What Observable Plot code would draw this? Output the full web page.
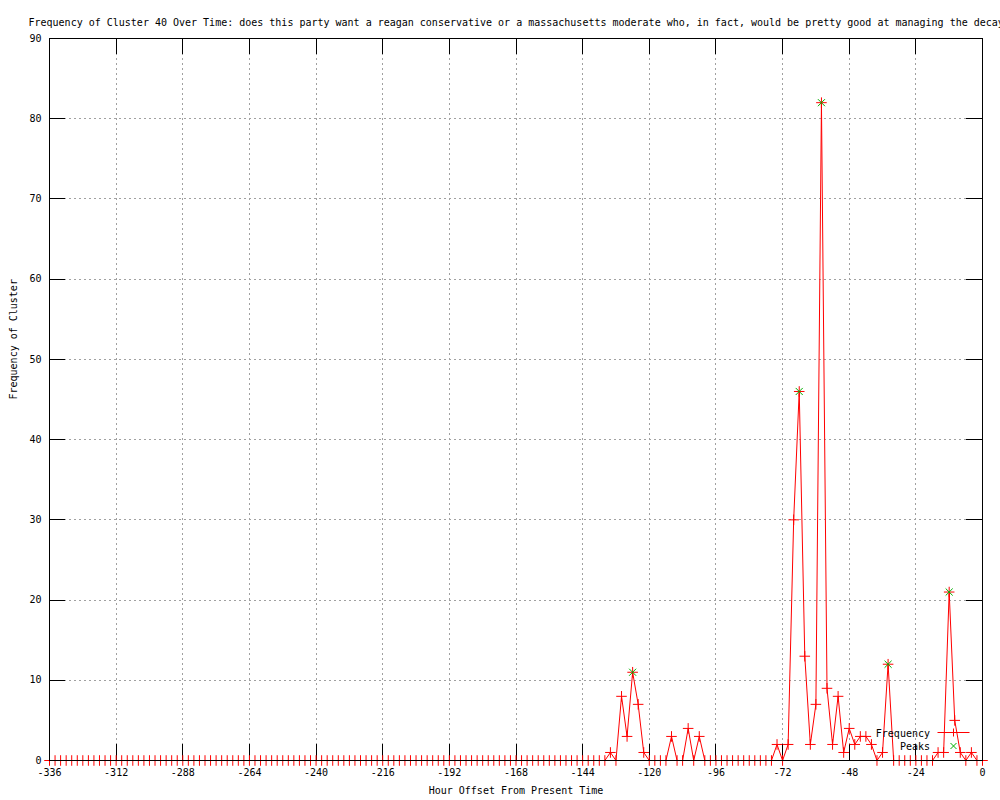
<!DOCTYPE html>
<html><head><meta charset="utf-8">
<script src="https://cdn.jsdelivr.net/npm/d3@7"></script>
<script src="https://cdn.jsdelivr.net/npm/@observablehq/plot@0.6"></script>
<style>
body{margin:0;background:#fff}
#chart{position:relative;width:1000px;height:800px;overflow:hidden}
</style>
</head><body><div id="chart"></div>
<script>
const title = "Frequency of Cluster 40 Over Time: does this party want a reagan conservative or a massachusetts moderate who, in fact, would be pretty good at managing the decay";
const xLabel = "Hour Offset From Present Time";
const yLabel = "Frequency of Cluster";
const xTicks = [-336, -312, -288, -264, -240, -216, -192, -168, -144, -120, -96, -72, -48, -24, 0];
const yTicks = [0, 10, 20, 30, 40, 50, 60, 70, 80, 90];
const legendLabels = ["Frequency", "Peaks"];

// one value every 2 hours, starting at -336; each row covers 24 hours
const frequency = [
  0,0,0,0,0,0,0,0,0,0,0,0,        // -336
  0,0,0,0,0,0,0,0,0,0,0,0,        // -312
  0,0,0,0,0,0,0,0,0,0,0,0,        // -288
  0,0,0,0,0,0,0,0,0,0,0,0,        // -264
  0,0,0,0,0,0,0,0,0,0,0,0,        // -240
  0,0,0,0,0,0,0,0,0,0,0,0,        // -216
  0,0,0,0,0,0,0,0,0,0,0,0,        // -192
  0,0,0,0,0,0,0,0,0,0,0,0,        // -168
  0,0,0,0,0,1,0,8,3,11,7,1,       // -144
  0,0,0,0,3,0,0,4,0,3,0,0,        // -120
  0,0,0,0,0,0,0,0,0,0,0,2,        // -96
  0,2,30,46,13,2,7,82,9,2,8,1,    // -72
  4,2,3,3,2,0,1,12,0,0,0,0,       // -48
  0,0,0,0,1,1,21,5,1,0,1,0,       // -24
  0                               // 0
];
const startHour = -336;
const stepHours = 2;

const peakHours = [-126, -66, -58, -34, -12];
const peakValues = [11, 46, 82, 12, 21];

const series = frequency.map((v, i) => ({hour: startHour + i * stepHours, value: v}));
const peaks = peakHours.map((h, i) => ({hour: h, value: peakValues[i]}));

const W = 1000, H = 800, mL = 49, mR = 18, mT = 38, mB = 40;
const plotW = W - mL - mR, plotH = H - mT - mB;
const tickLen = 16;
const font = "DejaVu Sans Mono, Liberation Mono, monospace";

const chart = Plot.plot({
  width: W, height: H,
  marginLeft: mL, marginRight: mR, marginTop: mT, marginBottom: mB,
  style: {fontFamily: font, fontSize: "10px", color: "black", background: "white", overflow: "visible"},
  x: {domain: [-336, 0], ticks: xTicks, tickSize: 0, tickPadding: 8, tickFormat: d => String(d), label: null},
  y: {domain: [0, 90], ticks: yTicks, tickSize: 0, tickPadding: 8, tickFormat: d => String(d), label: null},
  marks: [
    Plot.ruleX(xTicks, {x: d => d, stroke: "#a0a0a0", strokeOpacity: 1, strokeDasharray: "2,3", shapeRendering: "crispEdges"}),
    Plot.ruleY(yTicks, {y: d => d, stroke: "#a0a0a0", strokeOpacity: 1, strokeDasharray: "2,3", shapeRendering: "crispEdges"}),
    Plot.tickX(xTicks, {x: d => d, insetTop: plotH - tickLen, stroke: "black", shapeRendering: "crispEdges"}),
    Plot.tickX(xTicks, {x: d => d, insetBottom: plotH - tickLen, stroke: "black", shapeRendering: "crispEdges"}),
    Plot.tickY(yTicks, {y: d => d, insetRight: plotW - tickLen, stroke: "black", shapeRendering: "crispEdges"}),
    Plot.tickY(yTicks, {y: d => d, insetLeft: plotW - tickLen, stroke: "black", shapeRendering: "crispEdges"}),
    Plot.line(series, {x: "hour", y: "value", stroke: "#ff0000", strokeWidth: 1}),
    Plot.dot(series, {x: "hour", y: "value", symbol: "plus", r: 3.5, stroke: "#ff0000", strokeWidth: 1}),
    Plot.dot(peaks, {x: "hour", y: "value", symbol: "times", r: 3.3, stroke: "#00b000", strokeWidth: 1}),
    Plot.frame({stroke: "black", shapeRendering: "crispEdges"}),
    Plot.text([title], {text: d => d, frameAnchor: "top-left", textAnchor: "start", dx: -21, dy: -20, fill: "black"}),
    Plot.text([xLabel], {text: d => d, frameAnchor: "bottom", dy: 33, fill: "black"}),
    Plot.text([yLabel], {text: d => d, frameAnchor: "left", rotate: -90, dx: -36, fill: "black"})
  ]
});
document.getElementById("chart").appendChild(chart);

// legend (inside plot, bottom right)
const svg = d3.select(chart);
const lg = svg.append("g").attr("font-family", font).attr("font-size", 10);
lg.append("text").attr("x", 930).attr("y", 733).attr("dy", "0.35em").attr("text-anchor", "end").text(legendLabels[0]);
lg.append("text").attr("x", 930).attr("y", 746).attr("dy", "0.35em").attr("text-anchor", "end").text(legendLabels[1]);
lg.append("line").attr("x1", 937.5).attr("x2", 969.5).attr("y1", 732.5).attr("y2", 732.5).attr("stroke", "#ff0000");
lg.append("path").attr("d", "M949.5,732.5H957.5M953.5,728.5V736.5").attr("stroke", "#ff0000").attr("fill", "none");
lg.append("path").attr("d", "M950.5,743L956.5,749M956.5,743L950.5,749").attr("stroke", "#00b000").attr("fill", "none");
</script>
</body></html>
